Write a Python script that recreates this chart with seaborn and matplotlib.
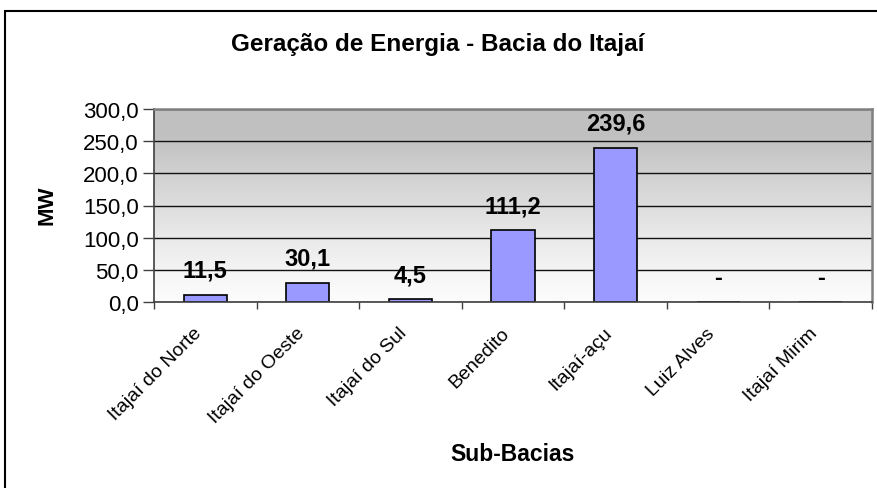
import numpy as np
import pandas as pd
import matplotlib
matplotlib.use("Agg")
import matplotlib.pyplot as plt
import matplotlib.transforms as mtransforms
from matplotlib.colors import LinearSegmentedColormap
from matplotlib.patches import Rectangle
import seaborn as sns

# data
sub_bacias = ["Itajaí do Norte", "Itajaí do Oeste", "Itajaí do Sul", "Benedito",
              "Itajaí-açu", "Luiz Alves", "Itajaí Mirim"]
mw = [11.5, 30.1, 4.5, 111.2, 239.6, 0.0, 0.0]
y_ticks = [0, 50, 100, 150, 200, 250, 300]

df = pd.DataFrame({"sub_bacia": sub_bacias, "mw": mw})

sns.set_style("white")
plt.rcParams["font.family"] = ["Liberation Sans", "DejaVu Sans"]
plt.rcParams["text.color"] = "black"
plt.rcParams["xtick.color"] = "black"
plt.rcParams["ytick.color"] = "black"

fig = plt.figure(figsize=(8.77, 4.89), dpi=100)
ax = fig.add_axes([154 / 877, 1 - 303 / 489, 718 / 877, 193 / 489])

# gray gradient background of the plot area (dark top, white bottom)
grad = np.linspace(0, 1, 256).reshape(-1, 1)
bg = LinearSegmentedColormap.from_list("bg", ["#fcfcfc", "#c0c0c0"])
ax.imshow(np.clip(grad * 1.15, 0, 1) ** 1.2, cmap=bg, origin="lower", aspect="auto",
          extent=[-0.5, 6.5, 0, 300], zorder=0)

sns.barplot(data=df, x="sub_bacia", y="mw", color="#9999ff", edgecolor="black",
            linewidth=1.2, width=0.42, saturation=1, ax=ax, zorder=2)

ax.set_xlim(-0.5, 6.5)
ax.set_ylim(0, 300)
ax.set_yticks(y_ticks)
ax.set_yticklabels([f"{v:.1f}".replace(".", ",") for v in y_ticks], fontsize=16)
ax.yaxis.grid(True, color="#111111", linewidth=1)
ax.set_axisbelow(True)

for sp in ["top", "right"]:
    ax.spines[sp].set_color("#808080")
    ax.spines[sp].set_linewidth(1.8)
for sp in ["left", "bottom"]:
    ax.spines[sp].set_color("#404040")
    ax.spines[sp].set_linewidth(1.2)

ax.tick_params(axis="y", direction="out", length=8, width=1, color="#404040", pad=3,
               left=True)
ax.set_xticks(np.arange(-0.5, 7, 1), minor=True)
ax.tick_params(axis="x", which="minor", direction="out", length=5, width=1,
               color="#404040", bottom=True)
ax.set_xticks(range(len(sub_bacias)))
ax.set_xticklabels(sub_bacias, rotation=45, ha="right", va="top",
                   rotation_mode="anchor", fontsize=14)
ax.tick_params(axis="x", which="major", length=0, pad=16)
shift = mtransforms.ScaledTranslation(-12 / 100, 0, fig.dpi_scale_trans)
for lab in ax.xaxis.get_majorticklabels():
    lab.set_transform(lab.get_transform() + shift)

# value labels
for i, v in enumerate(mw):
    txt = f"{v:.1f}".replace(".", ",") if v > 0 else "-"
    ax.annotate(txt, (i, v), xytext=(0, 17.6), textcoords="offset points",
                ha="center", va="center", fontsize=17, fontweight="bold")

ax.set_xlabel("")
ax.set_ylabel("")
fig.text(47 / 877, 1 - 205 / 489, "MW", rotation=90, ha="center", va="center",
         fontsize=16, fontweight="bold")
fig.text(513 / 877, 1 - 455 / 489, "Sub-Bacias", ha="center", va="center",
         fontsize=16.5, fontweight="bold")
fig.text(438 / 877, 1 - 45 / 489, "Geração de Energia - Bacia do Itajaí",
         ha="center", va="center", fontsize=17.5, fontweight="bold")

# chart frame (only left and top visible in the reference)
fig.add_artist(Rectangle((5 / 877, -0.1), 1.2, 1.1 - 12 / 489, fill=False,
                         edgecolor="black", linewidth=1.5,
                         transform=fig.transFigure))

fig.savefig("out.png", dpi=100)
